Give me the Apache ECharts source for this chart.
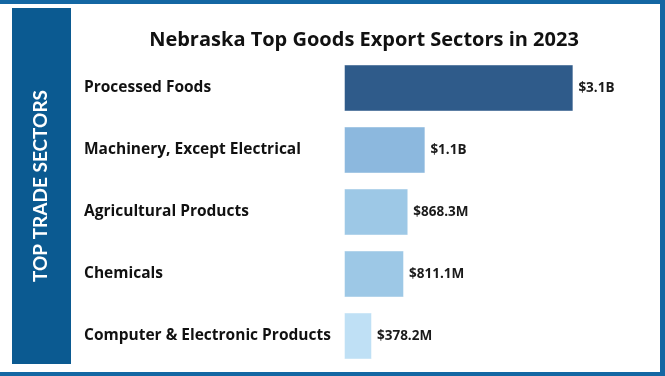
<!DOCTYPE html>
<html>
<head>
<meta charset="utf-8">
<script src="https://cdn.jsdelivr.net/npm/echarts@6/dist/echarts.min.js"></script>
<style>
  html, body { margin: 0; padding: 0; background: #fff; }
  #chart { width: 665px; height: 376px; }
</style>
</head>
<body>
<div id="chart"></div>
<script>
// Nebraska top goods export sectors, 2023 (values in millions of USD)
const sectors = ['Processed Foods', 'Machinery, Except Electrical', 'Agricultural Products', 'Chemicals', 'Computer & Electronic Products']
const exportValues = [3100, 1100, 868.3, 811.1, 378.2]
const valueLabels = ['$3.1B', '$1.1B', '$868.3M', '$811.1M', '$378.2M']

const barColors = ['#2f5b8a', '#8cb8de', '#9dc8e6', '#9dc8e6', '#bfe0f5']
const frameBlue = '#1467a3'
const panelBlue = '#0b5a91'
const fontFamily = '"Open Sans", Lato, sans-serif'

const chart = echarts.init(document.getElementById('chart'))

chart.setOption({
  backgroundColor: '#ffffff',
  animation: false,
  title: {
    text: 'Nebraska Top Goods Export Sectors in 2023',
    left: 359,
    top: 25,
    textAlign: 'center',
    textStyle: { fontFamily, fontSize: 20, fontWeight: 'bold', color: '#111' },
  },
  grid: { left: 344, right: 25, top: 57, height: 310 },
  xAxis: { type: 'value', min: 0, max: 4000, show: false },
  yAxis: {
    type: 'category',
    data: sectors,
    inverse: true,
    axisLine: { show: false },
    axisTick: { show: false },
    axisLabel: { align: 'left', margin: 260, padding: [4, 0, 0, 0], fontFamily, fontSize: 15.5, fontWeight: 'bold', color: '#111' },
  },
  series: [
    {
      type: 'bar',
      barWidth: 47,
      data: exportValues.map((v, i) => ({
        value: v,
        itemStyle: { color: barColors[i], borderColor: 'rgba(255,255,255,0.45)', borderWidth: 1 },
      })),
      label: {
        show: true,
        position: 'right',
        distance: 5,
        formatter: (p) => valueLabels[p.dataIndex],
        fontFamily,
        fontSize: 13.5,
        fontWeight: 'bold',
        color: '#1a1a1a',
      },
    },
  ],
  graphic: [
    // outer frame (top, right, bottom)
    { type: 'rect', shape: { x: 0, y: 0, width: 665, height: 4 }, style: { fill: frameBlue }, silent: true },
    { type: 'rect', shape: { x: 660, y: 0, width: 5, height: 376 }, style: { fill: frameBlue }, silent: true },
    { type: 'rect', shape: { x: 0, y: 372, width: 665, height: 4 }, style: { fill: frameBlue }, silent: true },
    // left side panel
    { type: 'rect', shape: { x: 12, y: 8, width: 59, height: 356 }, style: { fill: panelBlue }, silent: true },
    {
      type: 'text',
      x: 41,
      y: 186,
      rotation: Math.PI / 2,
      style: {
        text: 'TOP TRADE SECTORS',
        fill: '#ffffff',
        font: 'bold 19px Lato, sans-serif',
        textAlign: 'center',
        textVerticalAlign: 'middle',
      },
      silent: true,
    },
  ],
})

window.addEventListener('resize', () => chart.resize())
</script>
</body>
</html>
